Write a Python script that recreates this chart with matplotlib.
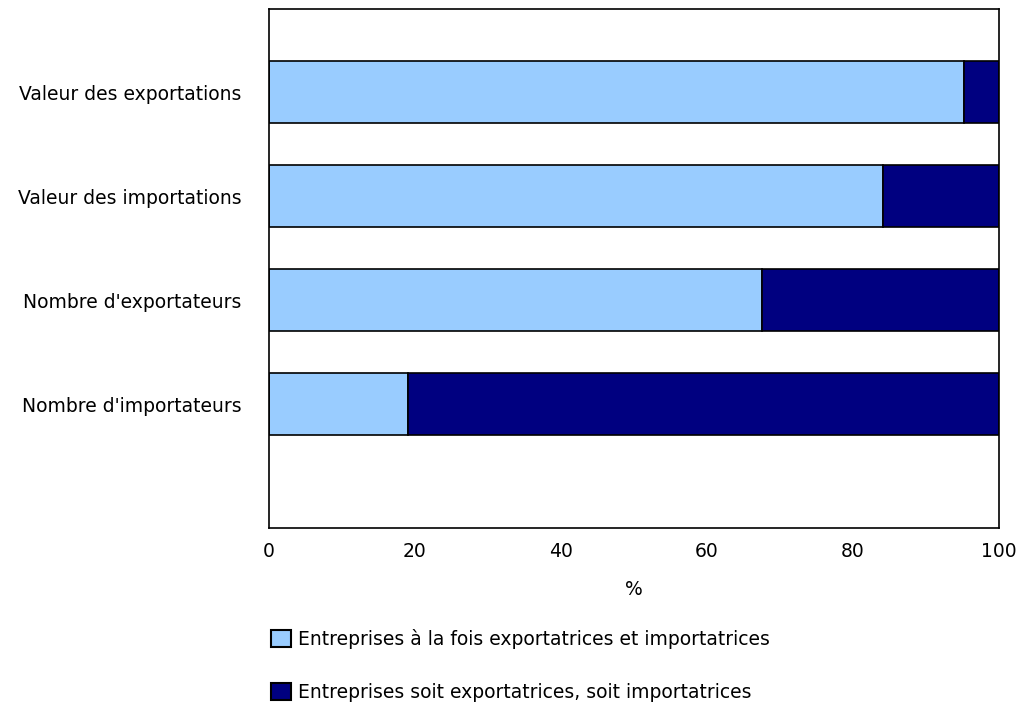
import matplotlib
matplotlib.use("Agg")
import matplotlib.pyplot as plt
from matplotlib.patches import Patch

categories = ["Valeur des exportations", "Valeur des importations",
              "Nombre d'exportateurs", "Nombre d'importateurs"]
both = [95.2, 84.1, 67.5, 19.0]
either = [4.8, 15.9, 32.5, 81.0]
labels = ["Entreprises à la fois exportatrices et importatrices",
          "Entreprises soit exportatrices, soit importatrices"]

light = "#99CCFF"
dark = "#000080"
fs = 13.5

fig = plt.figure(figsize=(10.2, 7.03), dpi=100)
ax = fig.add_axes([269 / 1020, 1 - 528 / 703, 730 / 1020, 519 / 703])

y = list(range(len(categories)))
ax.barh(y, both, height=0.6, color=light, edgecolor="black", linewidth=1.2)
ax.barh(y, either, left=both, height=0.6, color=dark, edgecolor="black", linewidth=1.2)

ax.set_xlim(0, 100)
ax.set_ylim(3 + 1.19, -0.8)
ax.set_xticks([0, 20, 40, 60, 80, 100])
ax.set_yticks(y)
ax.set_yticklabels(categories, fontsize=fs)
ax.tick_params(axis="y", length=0, pad=20)
ax.tick_params(axis="x", labelsize=fs, length=0, pad=10)
ax.set_xlabel("%", fontsize=fs, labelpad=14)
for s in ax.spines.values():
    s.set_linewidth(1.2)

handles = [Patch(facecolor=light, edgecolor="black", linewidth=1.5),
           Patch(facecolor=dark, edgecolor="black", linewidth=1.5)]
fig.legend(handles, labels, loc="upper left", bbox_to_anchor=(254 / 1020, 1 - 612 / 703),
           frameon=False, fontsize=fs, handlelength=1.05, handleheight=1.05,
           handletextpad=0.4, labelspacing=1.8)

fig.savefig("out.png", dpi=100)
